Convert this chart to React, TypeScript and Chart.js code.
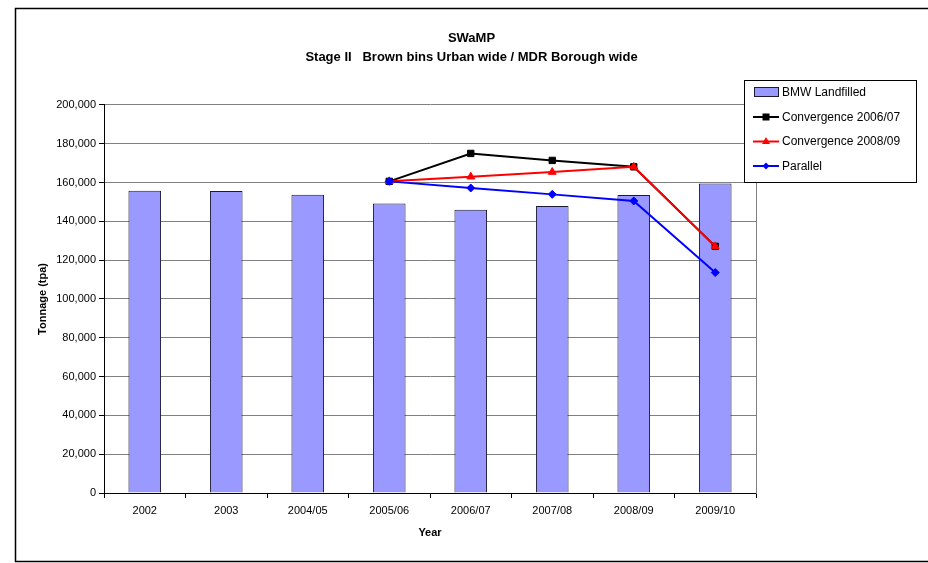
import React, { useEffect, useRef } from "react";
import { Chart, registerables } from "chart.js";

Chart.register(...registerables);

const categories = ["2002", "2003", "2004/05", "2005/06", "2006/07", "2007/08", "2008/09", "2009/10"];
const bmwLandfilled = [155800, 155600, 153700, 149200, 146000, 147900, 153600, 159500];
const convergence0607 = [null, null, null, 160600, 175000, 171400, 168100, 127100];
const convergence0809 = [null, null, null, 160600, 163000, 165400, 168100, 127100];
const parallel = [null, null, null, 160600, 157200, 153900, 150500, 113600];
const yMin = 0;
const yMax = 200000;
const yStep = 20000;
const titleLines = ["SWaMP", "Stage II   Brown bins Urban wide / MDR Borough wide"];
const yTitle = "Tonnage (tpa)";
const xTitle = "Year";

const FONT = "'Liberation Sans', Arial, sans-serif";

const framePlugin = {
  id: "frameAndLegend",
  afterDraw(chart: any) {
    const ctx = chart.ctx;
    ctx.save();
    // outer frame
    ctx.strokeStyle = "#000";
    ctx.lineWidth = 1.5;
    ctx.strokeRect(15.5, 8.5, 1000, 553);
    // legend box
    const bx = 744.5, by = 80.5, bw = 172, bh = 102;
    ctx.fillStyle = "#fff";
    ctx.fillRect(bx, by, bw, bh);
    ctx.lineWidth = 1;
    ctx.strokeStyle = "#000";
    ctx.strokeRect(bx, by, bw, bh);
    const ys = [92, 117, 141.5, 166];
    ctx.font = "12px " + FONT;
    ctx.textBaseline = "middle";
    ctx.textAlign = "left";
    chart.data.datasets.forEach((ds: any, i: number) => {
      const y = ys[i];
      if (ds.type === "bar" || !ds.type) {
        ctx.fillStyle = ds.backgroundColor;
        ctx.fillRect(754, y - 4.5, 25, 9);
        ctx.strokeStyle = ds.borderColor;
        ctx.lineWidth = 1;
        ctx.strokeRect(754.5, y - 4.5, 24, 9);
      } else {
        ctx.strokeStyle = ds.borderColor;
        ctx.lineWidth = 2;
        ctx.beginPath();
        ctx.moveTo(753, y);
        ctx.lineTo(779, y);
        ctx.stroke();
        ctx.fillStyle = ds.pointBackgroundColor;
        const cx = 766;
        ctx.beginPath();
        if (ds.pointStyle === "rect") {
          ctx.rect(cx - 3.5, y - 3.5, 7, 7);
        } else if (ds.pointStyle === "triangle") {
          ctx.moveTo(cx, y - 4.5);
          ctx.lineTo(cx + 4, y + 2.5);
          ctx.lineTo(cx - 4, y + 2.5);
          ctx.closePath();
        } else {
          ctx.moveTo(cx, y - 3.5);
          ctx.lineTo(cx + 3.5, y);
          ctx.lineTo(cx, y + 3.5);
          ctx.lineTo(cx - 3.5, y);
          ctx.closePath();
        }
        ctx.fill();
      }
      ctx.fillStyle = "#000";
      ctx.fillText(ds.label, 782, y + 0.5);
    });
    ctx.restore();
  },
};

export default function App() {
  const ref = useRef<HTMLCanvasElement | null>(null);
  useEffect(() => {
    if (!ref.current) return;
    const chart = new Chart(ref.current, {
      type: "bar",
      data: {
        labels: categories,
        datasets: [
          {
            type: "bar",
            label: "BMW Landfilled",
            data: bmwLandfilled,
            backgroundColor: "#9999FF",
            borderColor: "#1a1a33",
            borderWidth: 1,
            barPercentage: 0.4,
            categoryPercentage: 1,
            order: 4,
          } as any,
          {
            type: "line",
            label: "Convergence 2006/07",
            data: convergence0607,
            borderColor: "#000000",
            backgroundColor: "#000000",
            pointBackgroundColor: "#000000",
            pointBorderColor: "#000000",
            pointStyle: "rect",
            pointRadius: 4.5,
            pointBorderWidth: 1,
            borderWidth: 2,
            order: 3,
          },
          {
            type: "line",
            label: "Convergence 2008/09",
            data: convergence0809,
            borderColor: "#FF0000",
            backgroundColor: "#FF0000",
            pointBackgroundColor: "#FF0000",
            pointBorderColor: "#FF0000",
            pointStyle: "triangle",
            pointRadius: 4.5,
            pointBorderWidth: 1,
            borderWidth: 2,
            order: 2,
          },
          {
            type: "line",
            label: "Parallel",
            data: parallel,
            borderColor: "#0000FF",
            backgroundColor: "#0000FF",
            pointBackgroundColor: "#0000FF",
            pointBorderColor: "#0000FF",
            pointStyle: "rectRot",
            pointRadius: 4,
            pointBorderWidth: 1,
            borderWidth: 2,
            order: 1,
          },
        ],
      },
      options: {
        responsive: false,
        animation: false,
        layout: { padding: { left: 15, right: 0, top: 0, bottom: 0 } },
        plugins: {
          legend: { display: false },
          tooltip: { enabled: false },
          title: {
            display: true,
            text: titleLines,
            color: "#000",
            font: { family: FONT, size: 13, weight: "bold", lineHeight: 1.42 },
            padding: { top: 29.5, bottom: 38.5 },
          },
        },
        scales: {
          x: {
            type: "category",
            offset: true,
            grid: {
              display: true,
              offset: true,
              drawOnChartArea: false,
              drawTicks: true,
              tickLength: 5,
              tickColor: "#000",
            },
            border: { display: true, color: "#000", width: 1 },
            ticks: {
              color: "#000",
              font: { family: FONT, size: 11 },
              padding: 6,
              maxRotation: 0,
              autoSkip: false,
            },
            title: {
              display: true,
              text: xTitle,
              color: "#000",
              font: { family: FONT, size: 11, weight: "bold", lineHeight: 1.2 },
              padding: { top: 0, bottom: 23.4 },
            },
            afterFit: (s: any) => {
              s.height = 70;
            },
          },
          y: {
            type: "linear",
            position: "left",
            min: yMin,
            max: yMax,
            grid: {
              color: "#808080",
              lineWidth: 1,
              drawTicks: true,
              tickLength: 5,
              tickColor: "#000",
            },
            border: { display: true, color: "#000", width: 1 },
            ticks: {
              stepSize: yStep,
              color: "#000",
              font: { family: FONT, size: 11 },
              padding: 3,
              callback: (v: any) => Number(v).toLocaleString("en-US"),
            },
            title: {
              display: true,
              text: yTitle,
              color: "#000",
              font: { family: FONT, size: 11, weight: "bold", lineHeight: 1.2 },
              padding: { top: 21.4, bottom: 0 },
            },
            afterFit: (s: any) => {
              s.width = 89;
            },
          },
          yR: {
            type: "linear",
            position: "right",
            display: true,
            grid: { display: false, drawTicks: false },
            border: { display: true, color: "#808080", width: 1 },
            ticks: { display: false },
            afterFit: (s: any) => {
              s.width = 172;
            },
          },
        },
      },
      plugins: [framePlugin],
    });
    return () => chart.destroy();
  }, []);
  return (
    <div style={{ position: "absolute", left: 0, top: 0, width: 928, height: 563, background: "#fff" }}>
      <canvas ref={ref} width={928} height={563} />
    </div>
  );
}
